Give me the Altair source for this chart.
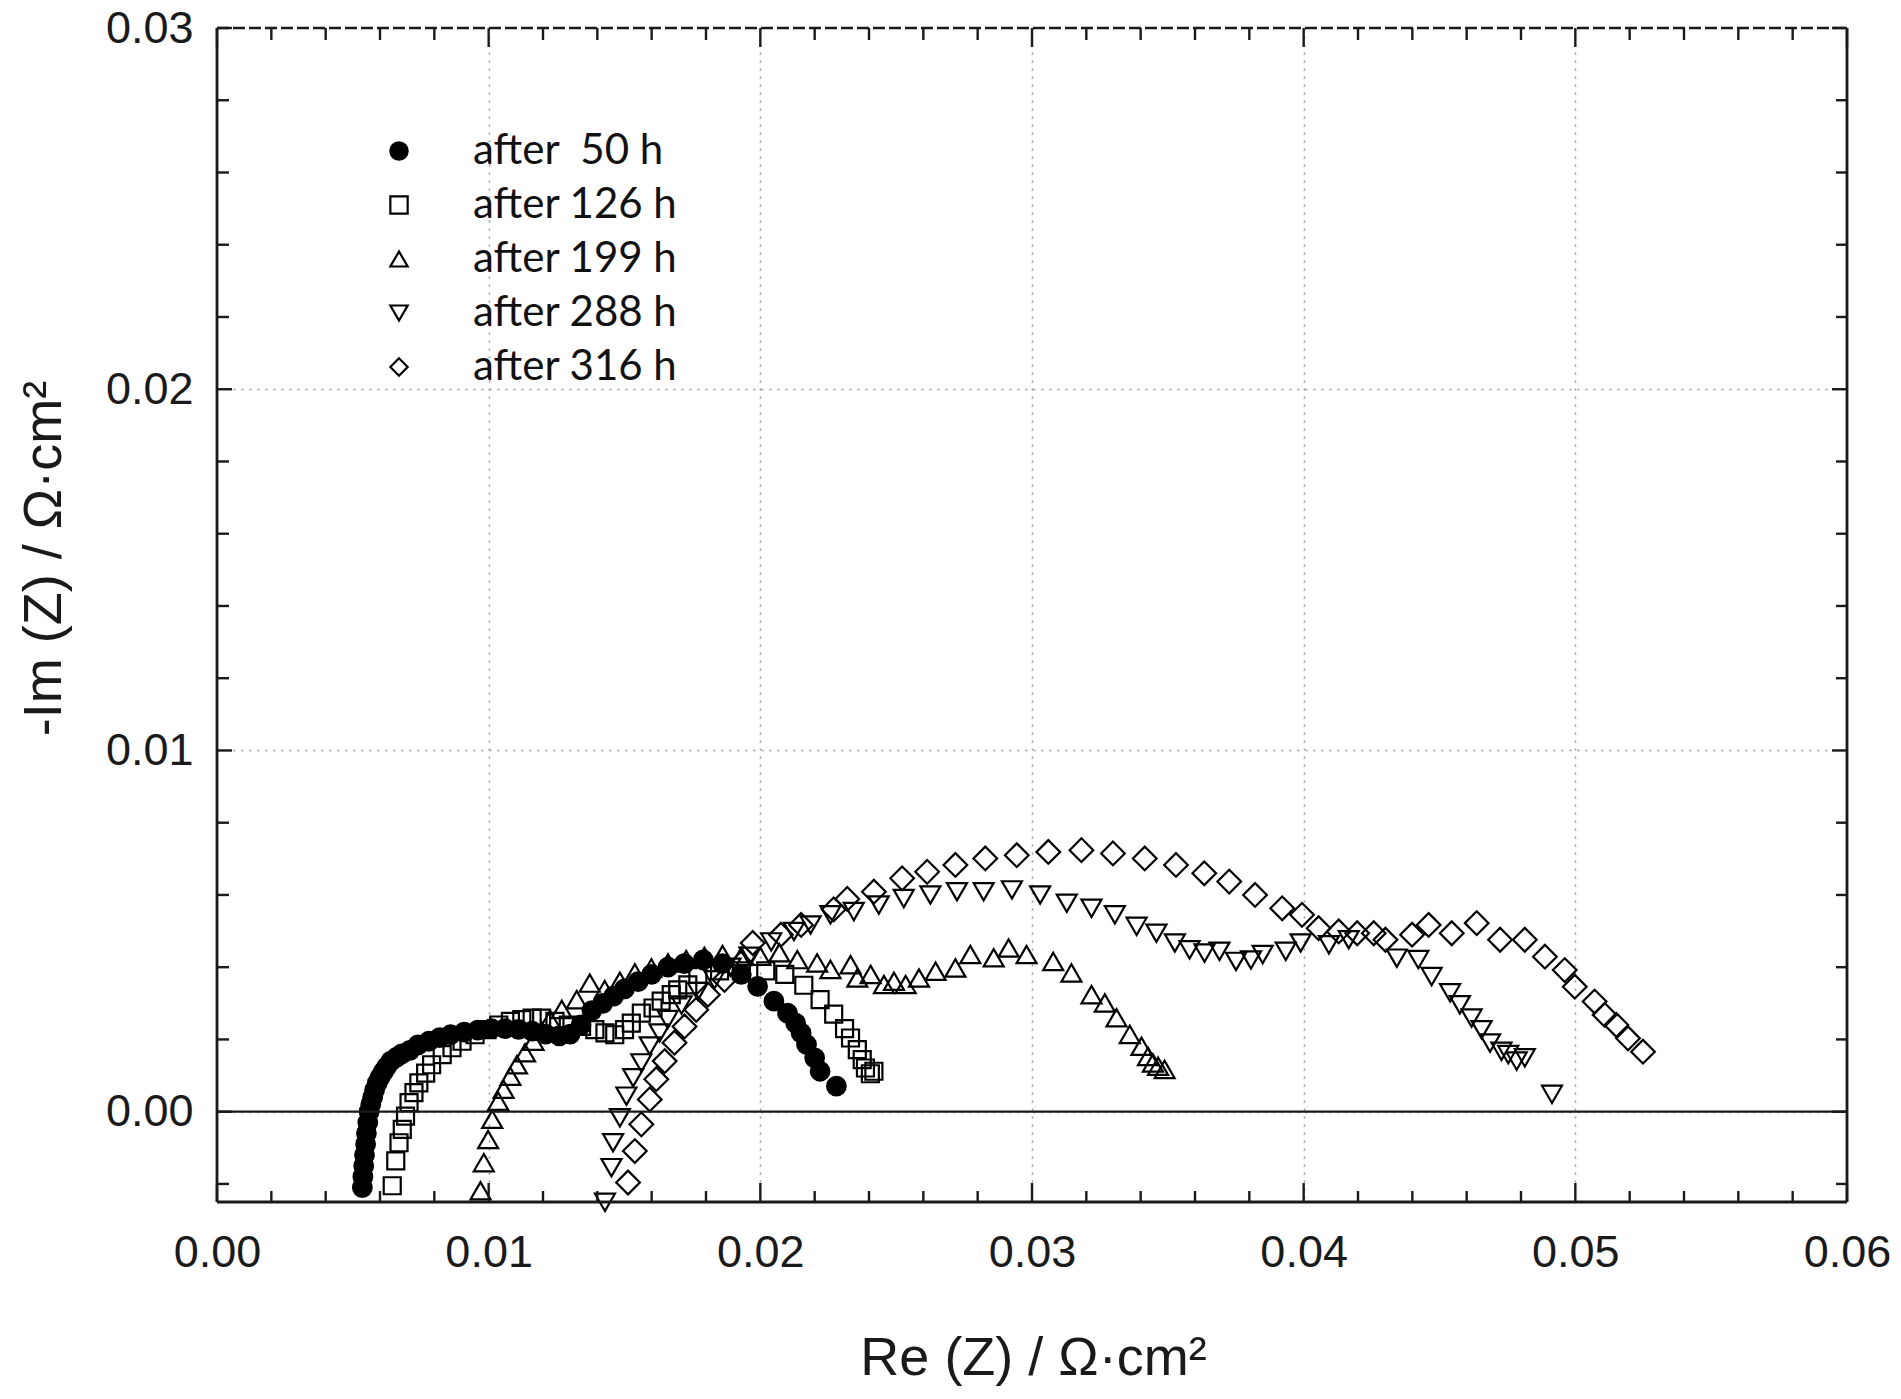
import altair as alt
import pandas as pd

# ---------------- data ----------------
series_labels = ["after\u00a0 50 h", "after 126 h", "after 199 h", "after 288 h", "after 316 h"]
series_shapes = ["circle", "square", "triangle-up", "triangle-down", "diamond"]
series_fills = ["black", "transparent", "transparent", "transparent", "transparent"]
series_strokes = ["black", "black", "black", "black", "black"]

re_50 = [0.00535, 0.00537, 0.0054, 0.00543, 0.00547, 0.0055, 0.00555, 0.0056, 0.00566, 0.00573,
         0.0058, 0.0059, 0.006, 0.00612, 0.00625, 0.0064, 0.0066, 0.0068, 0.0071, 0.0074,
         0.0078, 0.0082, 0.0086, 0.0091, 0.0096, 0.0101, 0.0106, 0.0111, 0.0116, 0.0121,
         0.0126, 0.0130, 0.0134, 0.0138, 0.0142, 0.0146, 0.0150, 0.0155, 0.0160, 0.0166,
         0.0172, 0.0179, 0.0186, 0.0193, 0.0199, 0.0205, 0.0210, 0.0213, 0.0215, 0.0217,
         0.0220, 0.0222, 0.0228]
im_50 = [-0.0021, -0.0018, -0.0015, -0.0012, -0.0009, -0.0006, -0.0003, 0.0, 0.0002, 0.0004,
         0.0006, 0.0008, 0.00095, 0.0011, 0.00125, 0.0014, 0.0015, 0.0016, 0.0017, 0.00185,
         0.00195, 0.00205, 0.00213, 0.0022, 0.00226, 0.0023, 0.0023, 0.00228, 0.00223, 0.00215,
         0.0021, 0.00215, 0.0024, 0.0028, 0.0030, 0.0032, 0.0034, 0.0036, 0.0038, 0.0040,
         0.0041, 0.0042, 0.0041, 0.0038, 0.00347, 0.00306, 0.00273, 0.00245, 0.00218, 0.00186,
         0.00149, 0.00112, 0.00071]

re_126 = [0.00645, 0.00658, 0.0067, 0.00682, 0.00694, 0.00707, 0.00725, 0.00743, 0.00768, 0.0079,
          0.00829, 0.00865, 0.00902, 0.0095, 0.00994, 0.01037, 0.0108, 0.01122, 0.0116, 0.01195,
          0.01244, 0.01293, 0.01342, 0.01391, 0.01428, 0.01464, 0.015, 0.01525, 0.01562, 0.01605,
          0.01635, 0.01672, 0.01696, 0.01733, 0.0177, 0.0185, 0.0193, 0.0202, 0.0209, 0.0216,
          0.0222, 0.0227, 0.0231, 0.02332, 0.02357, 0.02375, 0.02387, 0.02405, 0.02418]
im_126 = [-0.00205, -0.00136, -0.00086, -0.00049, -0.00012, 0.00025, 0.00053, 0.0008, 0.00107, 0.0013,
          0.00158, 0.00177, 0.00195, 0.00213, 0.00227, 0.0024, 0.0025, 0.00255, 0.00259, 0.00259,
          0.0025, 0.0024, 0.00236, 0.00227, 0.00218, 0.00213, 0.00227, 0.00245, 0.00273, 0.00287,
          0.00306, 0.00324, 0.00337, 0.00351, 0.0038, 0.0039, 0.0039, 0.0039, 0.0038, 0.0035,
          0.0031, 0.0027, 0.0023, 0.00204, 0.00172, 0.00144, 0.00121, 0.00105, 0.00112]

re_199 = [0.0097, 0.00982, 0.00998, 0.01013, 0.01035, 0.01055, 0.0108, 0.01104, 0.01134, 0.01165,
          0.01195, 0.01226, 0.01269, 0.01324, 0.01372, 0.01427, 0.01483, 0.01538, 0.01599, 0.0166,
          0.01727, 0.01794, 0.01861, 0.0193, 0.0200, 0.0207, 0.02136, 0.02209, 0.02258, 0.02332,
          0.02357, 0.02406, 0.02455, 0.02492, 0.02535, 0.02584, 0.02645, 0.02718, 0.02773, 0.02859,
          0.02914, 0.0298, 0.03078, 0.03145, 0.03219, 0.03268, 0.03311, 0.0336, 0.03403, 0.03427,
          0.03445, 0.03464, 0.03488]
im_199 = [-0.00219, -0.00141, -0.00077, -0.00021, 0.00029, 0.00062, 0.00098, 0.0013, 0.00163, 0.00195,
          0.00223, 0.00255, 0.00283, 0.0031, 0.00356, 0.00338, 0.00361, 0.00384, 0.00398, 0.00412,
          0.00421, 0.0043, 0.00435, 0.0043, 0.0043, 0.0044, 0.00421, 0.00412, 0.00394, 0.00407,
          0.0037, 0.0038, 0.00352, 0.00361, 0.00352, 0.0037, 0.00389, 0.00398, 0.00435, 0.00426,
          0.00453, 0.00435, 0.00416, 0.00384, 0.00324, 0.00301, 0.0026, 0.00214, 0.00181, 0.00153,
          0.00135, 0.00126, 0.00117]

re_288 = [0.01428, 0.01452, 0.01458, 0.01483, 0.01507, 0.01532, 0.01562, 0.01593, 0.01629, 0.01659,
          0.0171, 0.0177, 0.01831, 0.0189, 0.0196, 0.0204, 0.02124, 0.02185, 0.02258, 0.02344,
          0.02436, 0.02528, 0.02626, 0.02724, 0.02822, 0.02926, 0.0303, 0.03128, 0.03219, 0.03305,
          0.03385, 0.03458, 0.03526, 0.0358, 0.03635, 0.0369, 0.03751, 0.03806, 0.03849, 0.03934,
          0.03989, 0.04093, 0.04166, 0.04343, 0.04422, 0.04471, 0.04539, 0.04575, 0.04618, 0.04655,
          0.04686, 0.04728, 0.04753, 0.04784, 0.04814, 0.04914]
im_288 = [-0.00251, -0.00155, -0.00086, -0.00017, 0.00043, 0.00094, 0.00135, 0.00182, 0.00218, 0.00255,
          0.00295, 0.00333, 0.00365, 0.0040, 0.0043, 0.0047, 0.00499, 0.00517, 0.00545, 0.00554,
          0.00572, 0.0059, 0.006, 0.00609, 0.00609, 0.00614, 0.006, 0.00577, 0.00563, 0.00545,
          0.00513, 0.00494, 0.00467, 0.00448, 0.00439, 0.00444, 0.00416, 0.0042, 0.00435, 0.00444,
          0.00467, 0.00462, 0.00476, 0.00425, 0.00421, 0.00374, 0.00329, 0.00296, 0.00259, 0.00227,
          0.0019, 0.00167, 0.00158, 0.0014, 0.00149, 0.00048]

re_316 = [0.01513, 0.01538, 0.01562, 0.01593, 0.01617, 0.01648, 0.01684, 0.01721, 0.01764, 0.01807,
          0.01868, 0.01929, 0.01972, 0.02076, 0.0215, 0.0227, 0.0232, 0.02418, 0.02522, 0.02614,
          0.02718, 0.02828, 0.02944, 0.0306, 0.03182, 0.03298, 0.03415, 0.0353, 0.03634, 0.03726,
          0.03821, 0.03921, 0.03994, 0.04055, 0.04129, 0.04197, 0.04258, 0.04301, 0.04399, 0.0446,
          0.04545, 0.04637, 0.04723, 0.04814, 0.04888, 0.04961, 0.04998, 0.05071, 0.05108, 0.05151,
          0.05194, 0.05249]
im_316 = [-0.00196, -0.00109, -0.00035, 0.00034, 0.0009, 0.0014, 0.00191, 0.00236, 0.00282, 0.00324,
          0.00365, 0.0041, 0.00467, 0.0049, 0.00517, 0.0056, 0.00589, 0.00609, 0.00646, 0.00664,
          0.00683, 0.00701, 0.0071, 0.00719, 0.00724, 0.00715, 0.00701, 0.00683, 0.0066, 0.00637,
          0.006, 0.00563, 0.00545, 0.00508, 0.00499, 0.00494, 0.00494, 0.00476, 0.0049, 0.00517,
          0.00494, 0.00522, 0.00476, 0.00476, 0.00429, 0.00392, 0.00346, 0.00305, 0.00268, 0.0024,
          0.00203, 0.00166]

x_major_ticks = [0.0, 0.01, 0.02, 0.03, 0.04, 0.05, 0.06]
x_minor_ticks = [0.002, 0.004, 0.006, 0.008, 0.012, 0.014, 0.016, 0.018, 0.022, 0.024, 0.026, 0.028,
                 0.032, 0.034, 0.036, 0.038, 0.042, 0.044, 0.046, 0.048, 0.052, 0.054, 0.056, 0.058]
y_major_ticks = [0.0, 0.01, 0.02, 0.03]
y_minor_ticks = [-0.002, 0.002, 0.004, 0.006, 0.008, 0.012, 0.014, 0.016, 0.018,
                 0.022, 0.024, 0.026, 0.028]
zero_line = [0.0]

# ---------------- styling ----------------
W, H = 1630, 1174
FONT = "Liberation Sans"
INK = "#1a1a1a"
marker_sizes = [346, 289, 400, 400, 560]

xs = alt.Scale(domain=[0.0, 0.06], nice=False, zero=False)
ys = alt.Scale(domain=[-0.0025, 0.03], nice=False, zero=False)
shape_scale = alt.Scale(domain=series_labels, range=series_shapes)
fill_scale = alt.Scale(domain=series_labels, range=series_fills)
stroke_scale = alt.Scale(domain=series_labels, range=series_strokes)

x_axis = alt.Axis(
    values=x_major_ticks, format=".2f", title="Re (Z) / \u03a9\u00b7cm\u00b2",
    labelFont=FONT, labelFontSize=45, labelColor=INK, labelPadding=28,
    labelFlush=False, labelOverlap=False, labelBound=False,
    ticks=False, domain=False,
    grid=True, gridDash=[2, 6], gridColor="#9a9a9a", gridWidth=1.6,
    titleFont=FONT, titleFontSize=54, titleFontWeight="normal", titleColor=INK,
    titleX=816, titleY=172, titleAlign="center", titleBaseline="alphabetic",
)
y_axis = alt.Axis(
    values=y_major_ticks, format=".2f", title="-Im (Z) / \u03a9\u00b7cm\u00b2",
    labelFont=FONT, labelFontSize=45, labelColor=INK, labelPadding=24,
    labelFlush=False, labelOverlap=False, labelBound=False,
    ticks=False, domain=False,
    grid=True, gridDash=[2, 6], gridColor="#9a9a9a", gridWidth=1.6,
    titleFont=FONT, titleFontSize=54, titleFontWeight="normal", titleColor=INK,
    titleAngle=270, titleX=-157, titleY=530, titleAlign="center", titleBaseline="alphabetic",
)
leg = alt.Legend(
    title=None, orient="none", legendX=161, legendY=102,
    labelFont="Lato", labelFontSize=42, labelColor="#111", labelOffset=53, labelLimit=600,
    symbolSize=300, symbolStrokeWidth=2.2,
    rowPadding=12, padding=0,
)

all_re = [re_50, re_126, re_199, re_288, re_316]
all_im = [im_50, im_126, im_199, im_288, im_316]

point_layers = []
for i, (lab, rr, ii) in enumerate(zip(series_labels, all_re, all_im)):
    d = pd.DataFrame({"x": rr, "y": ii, "series": [lab] * len(rr)})
    layer = alt.Chart(d).mark_point(
        strokeWidth=2.2, opacity=1, size=marker_sizes[i]
    ).encode(
        x=alt.X("x:Q", scale=xs, axis=x_axis),
        y=alt.Y("y:Q", scale=ys, axis=y_axis),
        shape=alt.Shape("series:N", scale=shape_scale, legend=leg),
        fill=alt.Fill("series:N", scale=fill_scale, legend=leg),
        stroke=alt.Stroke("series:N", scale=stroke_scale, legend=leg),
    )
    point_layers.append(layer)

zero = alt.Chart(pd.DataFrame({"y": zero_line})).mark_rule(color=INK, strokeWidth=2.2).encode(
    y=alt.Y("y:Q", scale=ys, axis=y_axis), x=alt.value(0), x2=alt.value(W))


def tick_layer(vals, channel, length, side):
    m = alt.Chart(pd.DataFrame({channel: vals})).mark_rule(color=INK, strokeWidth=2.4)
    if channel == "x":
        enc = dict(x=alt.X("x:Q", scale=xs, axis=x_axis))
        if side == "bottom":
            enc.update(y=alt.value(H), y2=alt.value(H - length))
        else:
            enc.update(y=alt.value(0), y2=alt.value(length))
    else:
        enc = dict(y=alt.Y("y:Q", scale=ys, axis=y_axis))
        if side == "left":
            enc.update(x=alt.value(0), x2=alt.value(length))
        else:
            enc.update(x=alt.value(W), x2=alt.value(W - length))
    return m.encode(**enc)


ticks = [
    tick_layer(x_major_ticks, "x", 19, "bottom"), tick_layer(x_minor_ticks, "x", 11, "bottom"),
    tick_layer(x_major_ticks, "x", 19, "top"), tick_layer(x_minor_ticks, "x", 12, "top"),
    tick_layer(y_major_ticks, "y", 15, "left"), tick_layer(y_minor_ticks, "y", 12, "left"),
    tick_layer(y_major_ticks, "y", 15, "right"), tick_layer(y_minor_ticks, "y", 11, "right"),
]

frame_src = pd.DataFrame({"v": [0]})
left = alt.Chart(frame_src).mark_rule(color=INK, strokeWidth=2.8).encode(
    x=alt.value(0), y=alt.value(0), y2=alt.value(H))
right = alt.Chart(frame_src).mark_rule(color=INK, strokeWidth=2.8).encode(
    x=alt.value(W), y=alt.value(0), y2=alt.value(H))
bottom = alt.Chart(frame_src).mark_rule(color=INK, strokeWidth=2.8).encode(
    y=alt.value(H), x=alt.value(0), x2=alt.value(W))
top = alt.Chart(frame_src).mark_rule(color=INK, strokeWidth=2.6, strokeDash=[12, 4]).encode(
    y=alt.value(0), x=alt.value(0), x2=alt.value(W))

chart = alt.layer(*point_layers, zero, *ticks, left, right, bottom, top).properties(
    width=W, height=H,
    padding={"left": 209, "top": 20, "right": 46, "bottom": 189},
    autosize=alt.AutoSizeParams(type="none"),
    background="white",
).configure_view(stroke=None)

chart.save("out.html", embed_options={"renderer": "svg", "actions": False})
